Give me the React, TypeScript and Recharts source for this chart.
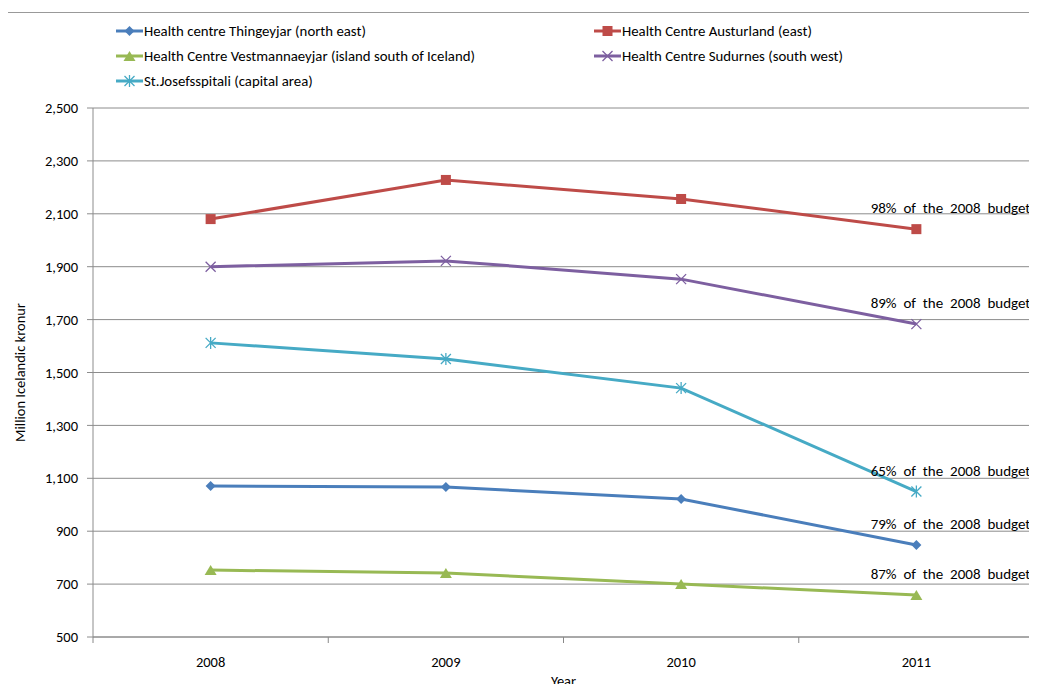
import { LineChart, Line, XAxis, YAxis, CartesianGrid, Legend, LabelList } from "recharts";

const years = ["2008", "2009", "2010", "2011"];
const thingeyjar = [1071, 1067, 1022, 848];
const austurland = [2080, 2228, 2156, 2042];
const vestmannaeyjar = [753, 742, 700, 659];
const sudurnes = [1900, 1922, 1853, 1683];
const josefs = [1612, 1551, 1441, 1050];
const yTicks = [500, 700, 900, 1100, 1300, 1500, 1700, 1900, 2100, 2300, 2500];

const series = [
  { key: "thingeyjar", name: "Health centre Thingeyjar (north east)", color: "#4A7EBB", shape: "diamond", note: "79% of the 2008 budget" },
  { key: "austurland", name: "Health Centre Austurland (east)", color: "#BE4B48", shape: "square", note: "98% of the 2008 budget" },
  { key: "vestmannaeyjar", name: "Health Centre Vestmannaeyjar (island south of Iceland)", color: "#98B954", shape: "triangle", note: "87% of the 2008 budget" },
  { key: "sudurnes", name: "Health Centre Sudurnes (south west)", color: "#7D5FA0", shape: "x", note: "89% of the 2008 budget" },
  { key: "josefs", name: "St.Josefsspitali (capital area)", color: "#46AAC5", shape: "star", note: "65% of the 2008 budget" },
];

const data = years.map((y, i) => ({
  year: y,
  thingeyjar: thingeyjar[i],
  austurland: austurland[i],
  vestmannaeyjar: vestmannaeyjar[i],
  sudurnes: sudurnes[i],
  josefs: josefs[i],
}));

const FONT = "Carlito, Lato, 'Liberation Sans', sans-serif";

function Marker({ shape, color, cx, cy }: { shape: string; color: string; cx: number; cy: number }) {
  if (shape === "diamond")
    return <path d={`M${cx},${cy - 5}L${cx + 5},${cy}L${cx},${cy + 5}L${cx - 5},${cy}Z`} fill={color} />;
  if (shape === "square") return <rect x={cx - 5} y={cy - 5} width={10} height={10} fill={color} />;
  if (shape === "triangle")
    return <path d={`M${cx},${cy - 5}L${cx + 6},${cy + 5}L${cx - 6},${cy + 5}Z`} fill={color} />;
  if (shape === "x")
    return (
      <path d={`M${cx - 5},${cy - 5}L${cx + 5},${cy + 5}M${cx - 5},${cy + 5}L${cx + 5},${cy - 5}`} stroke={color} strokeWidth={1.3} fill="none" />
    );
  return (
    <path
      d={`M${cx - 5},${cy - 5}L${cx + 5},${cy + 5}M${cx - 5},${cy + 5}L${cx + 5},${cy - 5}M${cx},${cy - 6}L${cx},${cy + 6}`}
      stroke={color}
      strokeWidth={1.3}
      fill="none"
    />
  );
}

const BAND = 235.25;

function XTick(props: any) {
  const { x, y, payload, index } = props;
  return (
    <g>
      <line x1={x - BAND / 2} x2={x - BAND / 2} y1={y - 8} y2={y - 2} stroke="#888" />
      {index === years.length - 1 && <line x1={x + BAND / 2} x2={x + BAND / 2} y1={y - 8} y2={y - 2} stroke="#888" />}
      <text x={x} y={y + 22} textAnchor="middle" fontSize={14.5} fontFamily={FONT} fill="#000">
        {payload.value}
      </text>
    </g>
  );
}

function LegendBox() {
  const cols = [116, 594];
  return (
    <svg width={1000} height={95} style={{ position: "absolute", left: 0, top: 0 }}>
      {series.map((s, i) => {
        const x = cols[i % 2] - 8;
        const y = 23 + Math.floor(i / 2) * 25;
        return (
          <g key={s.key}>
            <line x1={x} x2={x + 27} y1={y} y2={y} stroke={s.color} strokeWidth={3} />
            <Marker shape={s.shape} color={s.color} cx={x + 13.5} cy={y} />
            <text x={x + 28} y={y + 5} fontSize={14.8} fontFamily={FONT} fill="#000">
              {s.name}
            </text>
          </g>
        );
      })}
    </svg>
  );
}

export default function App() {
  return (
    <div style={{ position: "relative", width: 1029, height: 676 }}>
      <div
        style={{
          position: "absolute",
          left: -1,
          top: 4,
          width: 1040,
          height: 700,
          borderLeft: "1px solid #999",
          borderTop: "1px solid #999",
        }}
      />
      <LineChart width={1029} height={676} data={data} margin={{ top: 100, right: 3, left: 0, bottom: 0 }}>
        <CartesianGrid vertical={false} stroke="#8c8c8c" strokeWidth={1} />
        <XAxis
          dataKey="year"
          height={47}
          padding={{ left: BAND / 2, right: BAND / 2 }}
          axisLine={{ stroke: "#8c8c8c" }}
          tickLine={false}
          tick={<XTick />}
          label={(p: any) => (
            <text x={p.viewBox.x + p.viewBox.width / 2} y={p.viewBox.y + 49} textAnchor="middle" fontSize={14.5} fontFamily={FONT} fill="#000">
              Year
            </text>
          )}
        />
        <YAxis
          width={85}
          domain={[500, 2500]}
          ticks={yTicks}
          interval={0}
          axisLine={{ stroke: "#8c8c8c" }}
          tickLine={{ stroke: "#8c8c8c" }}
          tickSize={6}
          tickMargin={9}
          tick={{ fontSize: 14.5, fontFamily: FONT, fill: "#000" }}
          tickFormatter={(v: number) => v.toLocaleString("en-US")}
          label={(p: any) => (
            <text
              x={12}
              y={p.viewBox.y + p.viewBox.height / 2}
              transform={`rotate(-90, 12, ${p.viewBox.y + p.viewBox.height / 2})`}
              textAnchor="middle"
              dominantBaseline="central"
              fontSize={14.5}
              fontFamily={FONT}
              fill="#000"
            >
              Million Icelandic kronur
            </text>
          )}
        />
        <Legend content={() => <LegendBox />} wrapperStyle={{ left: 0, top: 0, width: 1000 }} />
        {series.map((s) => (
          <Line
            key={s.key}
            dataKey={s.key}
            name={s.name}
            stroke={s.color}
            strokeWidth={3}
            isAnimationActive={false}
            dot={(p: any) => <Marker key={p.index} shape={s.shape} color={s.color} cx={p.cx} cy={p.cy} />}
            activeDot={false}
          >
            <LabelList
              dataKey={s.key}
              content={(p: any) =>
                p.index === years.length - 1 ? (
                  <text
                    x={p.x + 114}
                    y={p.y - 16}
                    textAnchor="end"
                    fontSize={15}
                    wordSpacing={3.5}
                    fontFamily={FONT}
                    fill="#000"
                  >
                    {s.note}
                  </text>
                ) : null
              }
            />
          </Line>
        ))}
      </LineChart>
    </div>
  );
}
